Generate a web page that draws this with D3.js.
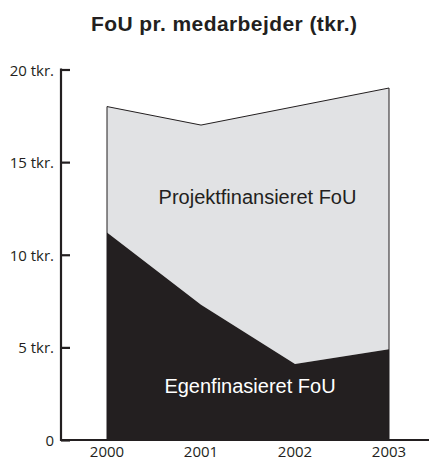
<!DOCTYPE html>
<html>
<head>
<meta charset="utf-8">
<script src="https://d3js.org/d3.v7.min.js"></script>
<style>
  body { margin: 0; background: #fff; }
  svg { display: block; }
</style>
</head>
<body>
<div id="chart"></div>
<script>
var years = [2000, 2001, 2002, 2003];
var egen = [11.2, 7.3, 4.1, 4.9];
var total = [18.0, 17.0, 18.0, 19.0];
var yTicks = [0, 5, 10, 15, 20];
var yTickLabels = ["0", "5 tkr.", "10 tkr.", "15 tkr.", "20 tkr."];

var W = 429, H = 461;
var axisX = 61;

var svg = d3.select("#chart")
    .append("svg")
    .attr("width", W)
    .attr("height", H);

var x = d3.scaleLinear()
    .domain([2000, 2003])
    .range([107, 389]);

var y = d3.scaleLinear()
    .domain([0, 20])
    .range([440, 69.5]);

var rows = years.map(function (yr, i) {
    return { year: yr, egen: egen[i], total: total[i] };
});

// project financed (light) area sits on top of the self financed one
var areaTop = d3.area()
    .x(function (d) { return x(d.year); })
    .y0(function (d) { return y(d.egen); })
    .y1(function (d) { return y(d.total); });

var areaBottom = d3.area()
    .x(function (d) { return x(d.year); })
    .y0(y(0))
    .y1(function (d) { return y(d.egen); });

svg.append("path")
    .datum(rows)
    .attr("d", areaTop)
    .attr("fill", "#e1e2e4");

svg.append("path")
    .datum(rows)
    .attr("d", areaBottom)
    .attr("fill", "#231f20");

// outline: left edge, top line, right edge
var outline = d3.line();

var pts = [[x(years[0]), y(0)]]
    .concat(rows.map(function (d) { return [x(d.year), y(d.total)]; }))
    .concat([[x(years[years.length - 1]), y(0)]]);

svg.append("path")
    .attr("d", outline(pts))
    .attr("fill", "none")
    .attr("stroke", "#231f20")
    .attr("stroke-width", 1);

// y axis
var yAxis = d3.axisRight(y)
    .tickValues(yTicks)
    .tickSize(9)
    .tickFormat("");

var yg = svg.append("g")
    .attr("transform", "translate(" + axisX + ",0)")
    .call(yAxis);
yg.select(".domain").remove();
yg.selectAll(".tick line")
    .attr("stroke", "#231f20")
    .attr("stroke-width", 2.2);

svg.append("line")
    .attr("x1", axisX).attr("x2", axisX)
    .attr("y1", y(20) - 1.1).attr("y2", y(0) + 1.1)
    .attr("stroke", "#231f20")
    .attr("stroke-width", 2.2);

svg.selectAll("text.ylab")
    .data(yTicks)
    .enter()
    .append("text")
    .attr("class", "ylab")
    .attr("x", 54)
    .attr("y", function (d) { return y(d) + 6; })
    .attr("text-anchor", "end")
    .style("font-family", "'Open Sans', sans-serif")
    .style("font-size", "15px")
    .style("fill", "#231f20")
    .text(function (d, i) { return yTickLabels[i]; });

// x axis
svg.append("line")
    .attr("x1", axisX - 1).attr("x2", W)
    .attr("y1", y(0)).attr("y2", y(0))
    .attr("stroke", "#231f20")
    .attr("stroke-width", 2.2);

svg.selectAll("text.xlab")
    .data(years)
    .enter()
    .append("text")
    .attr("class", "xlab")
    .attr("x", function (d) { return x(d); })
    .attr("y", 456.5)
    .attr("text-anchor", "middle")
    .style("font-family", "'Open Sans', sans-serif")
    .style("font-size", "15px")
    .style("fill", "#231f20")
    .text(function (d) { return d; });

// title
svg.append("text")
    .attr("x", 224)
    .attr("y", 31)
    .attr("text-anchor", "middle")
    .attr("textLength", 266)
    .style("font-family", "'Liberation Sans', Arial, sans-serif")
    .style("font-weight", "bold")
    .style("font-size", "21px")
    .style("fill", "#231f20")
    .text("FoU pr. medarbejder (tkr.)");

// area labels
svg.append("text")
    .attr("x", 257.5)
    .attr("y", 204)
    .attr("text-anchor", "middle")
    .style("font-family", "'Liberation Sans', Arial, sans-serif")
    .style("font-size", "20px")
    .style("fill", "#231f20")
    .text("Projektfinansieret FoU");

svg.append("text")
    .attr("x", 250)
    .attr("y", 393)
    .attr("text-anchor", "middle")
    .style("font-family", "'Liberation Sans', Arial, sans-serif")
    .style("font-size", "20px")
    .style("fill", "#ffffff")
    .text("Egenfinasieret FoU");
</script>
</body>
</html>
